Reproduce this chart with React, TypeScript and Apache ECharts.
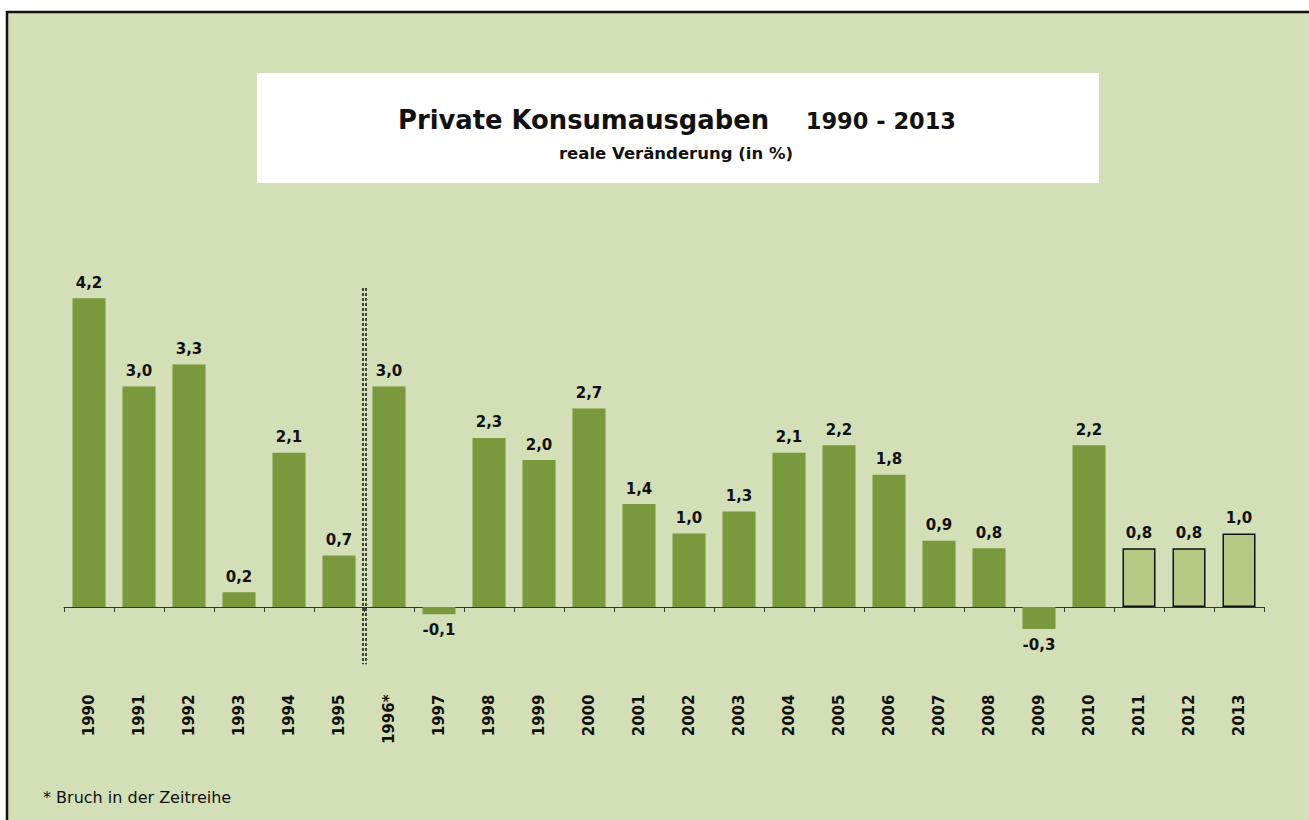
import React, { useEffect, useRef } from "react";
import * as echarts from "echarts";

const years = ["1990","1991","1992","1993","1994","1995","1996*","1997","1998","1999","2000","2001","2002","2003","2004","2005","2006","2007","2008","2009","2010","2011","2012","2013"];
const values = [4.2,3.0,3.3,0.2,2.1,0.7,3.0,-0.1,2.3,2.0,2.7,1.4,1.0,1.3,2.1,2.2,1.8,0.9,0.8,-0.3,2.2,0.8,0.8,1.0];
const forecastYears = ["2011","2012","2013"];
const breakPosition = 6; // boundary between 1995 and 1996*
const breakRange = [4.34, -0.78];

const BG = "#d3dfb6";
const BAR = "#7a983c";
const BAR_LIGHT = "#b5c985";
const FONT = "DejaVu Sans";

export default function App() {
  const ref = useRef<HTMLDivElement>(null);
  useEffect(() => {
    const chart = echarts.init(ref.current!, undefined, { renderer: "svg" });
    const barData = values.map((v, i) => {
      const isF = forecastYears.includes(years[i]);
      return {
        value: v,
        itemStyle: isF ? { color: BAR_LIGHT, borderColor: "#111", borderWidth: 1.5 } : { color: BAR },
        label: { position: v < 0 ? "bottom" : "top" },
      };
    });
    chart.setOption({
      animation: false,
      backgroundColor: "#ffffff",
      graphic: [
        { type: "rect", z: -10, shape: { x: 7, y: 12, width: 1400, height: 900 }, style: { fill: BG, stroke: "#111", lineWidth: 2.5 } },
        { type: "rect", z: -5, shape: { x: 257, y: 73, width: 842, height: 110 }, style: { fill: "#ffffff" } },
        { type: "text", x: 398, y: 120, style: { text: "Private Konsumausgaben", font: `bold 25.8px "${FONT}"`, fill: "#111", textVerticalAlign: "middle" } },
        { type: "text", x: 956, y: 121, style: { text: "1990 - 2013", font: `bold 22.5px "${FONT}"`, fill: "#111", textAlign: "right", textVerticalAlign: "middle" } },
        { type: "text", x: 676, y: 153, style: { text: "reale Veränderung (in %)", font: `bold 16.5px "${FONT}"`, fill: "#111", textAlign: "center", textVerticalAlign: "middle" } },
        { type: "text", x: 43, y: 797, style: { text: "* Bruch in der Zeitreihe", font: `16px "${FONT}"`, fill: "#111", textVerticalAlign: "middle" } },
      ],
      grid: { left: 64, right: 45, top: 239.5, bottom: 139.5, containLabel: false, outerBoundsMode: "none" },
      xAxis: [
        {
          type: "category",
          data: years,
          boundaryGap: true,
          axisLine: { onZero: true, lineStyle: { color: "#333", width: 1 } },
          axisTick: { show: true, length: 5, interval: 0, lineStyle: { color: "#333" } },
          axisLabel: { rotate: 90, margin: 14, interval: 0, color: "#111", fontFamily: FONT, fontWeight: "bold", fontSize: 15 },
          splitLine: { show: false },
        },
        { type: "value", min: 0, max: 24, show: false },
      ],
      yAxis: { type: "value", min: -1, max: 5, show: false, splitLine: { show: false } },
      series: [
        {
          type: "bar",
          data: barData,
          barWidth: "66%",
          label: {
            show: true,
            distance: 8,
            color: "#111",
            fontFamily: FONT,
            fontWeight: "bold",
            fontSize: 15,
            formatter: (p: any) => p.value.toFixed(1).replace(".", ","),
          },
        },
        {
          type: "line",
          xAxisIndex: 1,
          data: [],
          symbol: "none",
          markLine: {
            symbol: "none",
            silent: true,
            label: { show: false },
            lineStyle: { color: "#111", type: [3, 2], width: 1.5 },
            data: [
              [{ coord: [breakPosition - 0.035, breakRange[0]] }, { coord: [breakPosition - 0.035, breakRange[1]] }],
              [{ coord: [breakPosition + 0.035, breakRange[0]] }, { coord: [breakPosition + 0.035, breakRange[1]] }],
            ],
          },
        },
      ],
    });
    return () => chart.dispose();
  }, []);
  return <div ref={ref} style={{ position: "absolute", left: 0, top: 0, width: 1309, height: 820 }} />;
}
